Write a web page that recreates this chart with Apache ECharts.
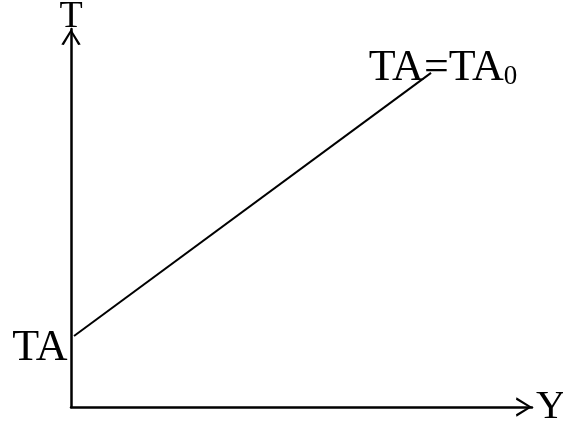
<!DOCTYPE html>
<html>
<head>
<meta charset="utf-8">
<script src="https://cdn.jsdelivr.net/npm/echarts@6/dist/echarts.min.js"></script>
<style>
  html, body { margin: 0; padding: 0; background: #fff; }
  #chart { width: 563px; height: 425px; }
</style>
</head>
<body>
<div id="chart"></div>
<script>
// 示意图数据：直线两端点（坐标轴 0~100 的相对刻度）
const xValues = [0.65, 78.1];
const tValues = [18.8, 88.4];
const pointLabels = ['TA', 'TA=TA0'];
const axisNames = { x: 'Y', y: 'T' };

const serif = '"Liberation Serif", "DejaVu Serif", serif';
// 空心箭头（V 形）
const chevron = 'path://M10,0 L0,16 L2.6,16.5 L10,3.8 L17.4,16.5 L20,16 Z';

var myChart = echarts.init(document.getElementById('chart'));

const lineData = xValues.map((x, i) => {
  const item = { value: [x, tValues[i]] };
  if (i === 0) {
    item.label = {
      show: true,
      position: 'left',
      distance: 6,
      offset: [0, 13],
      formatter: pointLabels[i],
    };
  } else {
    item.label = {
      show: true,
      position: 'inside',
      offset: [12, -4],
      // 下标 0
      formatter: '{a|' + pointLabels[i].slice(0, -1) + '}{s|' + pointLabels[i].slice(-1) + '}',
      rich: {
        a: { fontSize: 44, fontFamily: serif, color: '#000', verticalAlign: 'bottom' },
        s: { fontSize: 27, fontFamily: serif, color: '#000', verticalAlign: 'bottom' },
      },
    };
  }
  return item;
});

var option = {
  animation: false,
  backgroundColor: '#fff',
  grid: {
    left: 71,
    right: 31,
    top: 29,
    bottom: 18,
    containLabel: false,
    outerBoundsMode: 'none',
  },
  xAxis: {
    type: 'value',
    min: 0,
    max: 100,
    name: axisNames.x,
    nameLocation: 'end',
    nameGap: 4,
    nameTextStyle: { fontSize: 41, fontFamily: serif, color: '#000' },
    axisLine: {
      show: true,
      symbol: ['none', chevron],
      symbolSize: [19.4, 16],
      symbolOffset: [0, -8],
      lineStyle: { color: '#000', width: 2.5 },
    },
    axisTick: { show: false },
    axisLabel: { show: false },
    splitLine: { show: false },
  },
  yAxis: {
    type: 'value',
    min: 0,
    max: 100,
    name: axisNames.y,
    nameLocation: 'end',
    nameGap: -7,
    nameTextStyle: { fontSize: 38, fontFamily: serif, color: '#000' },
    axisLine: {
      show: true,
      symbol: ['none', chevron],
      symbolSize: [19.4, 16],
      symbolOffset: [0, -8],
      lineStyle: { color: '#000', width: 2.5 },
    },
    axisTick: { show: false },
    axisLabel: { show: false },
    splitLine: { show: false },
  },
  series: [
    {
      type: 'line',
      data: lineData,
      symbol: 'circle',
      symbolSize: 1,
      showSymbol: true,
      itemStyle: { color: 'rgba(0,0,0,0)' },
      lineStyle: { color: '#000', width: 2 },
      label: {
        color: '#000',
        fontSize: 44,
        fontFamily: serif,
      },
    },
  ],
};
myChart.setOption(option);
</script>
</body>
</html>
